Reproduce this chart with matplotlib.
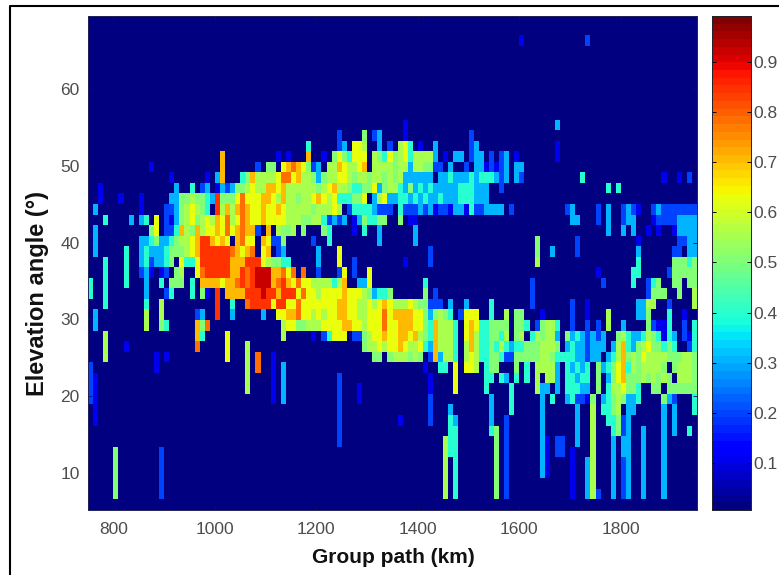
import numpy as np
import matplotlib
matplotlib.use("Agg")
import matplotlib.pyplot as plt
from matplotlib.lines import Line2D

plt.rcParams['font.family'] = ['Liberation Sans', 'DejaVu Sans']

# Cell levels (level code -> intensity)
level_values = {'.': 0.006, '1': 0.10, '2': 0.20, '3': 0.30, '4': 0.40, '5': 0.50,
                '6': 0.56, '7': 0.63, '8': 0.70, '9': 0.78, 'a': 0.85, 'b': 0.93}

x_labels = [800, 1000, 1200, 1400, 1600, 1800]
y_labels = [10, 20, 30, 40, 50, 60]
cbar_labels = [0.1, 0.2, 0.3, 0.4, 0.5, 0.6, 0.7, 0.8, 0.9]

# row index (bottom = 0) -> "startcolumn:levels" runs
row_cells = {
    44: "85:1 98:2",
    36: "62:1 92:3",
    35: "49:2 54:5 56:23 62:1 75:2",
    34: "43:4 49:23 52:776 57:3 59:2 61:674 65:1 68:3 75:23 92:1",
    33: "26:8 37:1 39:1 43:8 46:1 48:5754777.6547567466663 70:1 72:33 75:233 79:2 81:23 84:1 92:1",
    32: "12:1 26:8 33:2 35:55 38:789875" "23.66876678.66665663665522.3..2.331212 3.33",
    31: "16:1 23:1 25:38 30:45866667997866535667765665665656333333.33433343444323.32 97:4 113:1 116:1 118:2",
    30: "2:1 17:3 20:4 22:23 25:132355676688786666665678665445573566435343433333444333..2 102:4.4",
    29: "2:1 6:1 10:1 16:335565543a55579777887686656678767444557.3673344343433433344433 3",
    28: "1:3 10:1 15:223567654 25:a686898778778766666566676 51:244443222.42223231221331422 3333.2 94:23 100:2 102:3 105:2321 111:232222222",
    27: "3:4 8:3 10:34 13:7 15:21 17:3567567687967987787777666556642323.1354455 61:5 63:11 95:33 100:2 102:3 105:233 111:122223333",
    26: "1:3 12:57 15:22 17:48658677879789882.8.6556.5...54 52:1 54:4 57:3 64:3 102:3 105:3 107:3 110:1 112:1 115:1333 3",
    25: "1:3 10:33453345667 21:8aa8787.8977.872 37:25 44:2 47:4 57:3 64:3 88:5 96:2 108:1 116:2233",
    24: "1:3 7:4 10:343334555678aaaaaa98789.78.23 45:3 49:7 67:2 88:5 91:3 96:2 108:3 115:22.33",
    23: "3:4 7:4 10:3423345.744 21:7aaaaaa888aaa765544 45:3 49:7 52:2 62:1 67:2 88:6 108:4 115:55545",
    22: "3:4 7:4 10:231.12.56..79aaaaa88a9abbb88979.9..2...27 52:2 55:7 100:1 107:44 114:255555",
    21: "0:4 3:4 7:4 11:3 14:4 16:555 20:4 22:88887889a9abbb89a8797766664 49:68 53:33 55:7 66:4 87:2 101:2 107:4 110:245 115:55.55",
    20: "0:4 3:4 11:3 15:24 20:4 22:51 25:a 27:8888aaabaa8aaa7977677778 8 51:7776 55:5344 5 66:5 68:2 87:2 110:2555 116:5 119:6",
    19: "3:4 11:4 14:6 25:a 28:4 31:9aaaa7aa77977777778877 53:667678766676 5 66:5222 71:3 74:3 79:4 87:2 95:2 98:1 108:3366 114:2 119:6",
    18: "1:3 11:6 14:6 21:23 25:a 28:3 34:3 37:7788977676778877667779788 8 62:8877535654.2777..4..6.55 89:1 95:2 98:1 102:6 108:335 114:4 117:1",
    17: "1:3 11:6 14:54 21:85 23:9 38:677556667777 50:887767779778887754866 64:7 66:54866 71:64 74:78744555 5 84:554.2 89:5664 95:2 98:2 100:2 102:6 105:3 110:52114 117:2 119:4",
    16: "3:6 21:84 27:7 38:6 44:1 46:24777 52:22 54:5677877 61:887865 67:486664 73:.78644 79:55 81:46.56.465 90:663 94:5343232 3 104:56433 109:46541 114:43 117:214",
    15: "3:6 7:1 21:9 27:7 31:6 54:56676778766 65:743866 6 71:64.68644 5 79:5464 83:344555 89:6665 94:34332333 103:3684 107:3 108:567554 114:54 118:24",
    14: "3:6 13:1 15:1 27:7 31:6 33:9 36:1 56:55.566656 5 66:.28366 4 73:.676445 5 81:422555 5 88:5665444 4 96:33233 102:346856 108:5 109:76666 5 115:55 6 6 5",
    13: "0:2 13:1 31:6 33:9 36:1 38:3 66:1 69:44 72:7 74:776 78:455 84:5 86:4 88:6666 92:3 94:43434 100:534578 4 107:656666 5 115:56665",
    12: "0:21 31:6 36:1 38:3 49:2 67:1 72:7 78:44 81:43 84:4 86:4 88:6.663 94:44344 100:5.357855565656 5 116:6665",
    11: "0:21 31:6 36:1 38:3 49:2 53:1 67:1 72:7 78:4 83:4 88:633.3.44433.5.4667554 110:.55.555555",
    10: "0:21 36:1 38:3 49:2 53:1 67:2 79:3 83:4 89:3 91:4 94:34221 5 99:5 101:3456533 4 113:532 119:4",
    9: "1:1 49:2 67:2 71:3 79:3 83:4 89:3 96:3 99:6 101:4456 106:33 113:3 115:3 119:4",
    8: "1:1 49:2 61:1 67:2 71:43 79:3 82:2 89:3 96:3 99:6 102:44523 113:3 115:3",
    7: "49:2 71:44 79:45 82:2 89:3 96:3 99:6 103:4523 109:3 113:3 115:3 118:4",
    6: "49:2 70:644 80:5 82:2 89:31 92:22 96:3 99:6 103:3 105:33 109:3 113:3",
    5: "5:5 14:2 70:644 80:5 82:2 89:31 92:22 95:1 99:6 103:3 105:33 109:3 113:3",
    4: "5:5 14:2 70:6 72:4 80:5 82:2 89:31 95:1 98:36 103:3 105:23 109:3 113:3",
    3: "5:5 14:2 70:6 72:4 80:5 82:2 89:31 95:1 98:36 103:3 105:23 109:3 113:3",
    2: "5:5 14:2 70:6 72:4 80:5 82:2 95:1 98:36 103:3 105:23 109:3 113:3",
    1: "5:5 14:2 70:6 72:4 80:5 82:2 95:1 98:362 103:3 105:23 109:3 113:3",
}

n_cols, n_rows = 120, 47
grid = np.full((n_rows, n_cols), level_values['.'])
for row, spec in row_cells.items():
    for tok in spec.split():
        if ':' in tok:
            start, codes = tok.split(':')
            col = int(start)
        else:
            codes = tok
        for ch in codes:
            if col < n_cols:
                grid[row, col] = level_values[ch]
            col += 1

W, H = 779, 575
fig = plt.figure(figsize=(W / 100, H / 100), dpi=100, facecolor='white')

def box(l, t, r, b):
    return [l / W, 1 - b / H, (r - l) / W, (b - t) / H]

TICK_COLOR = '#4d4d4d'
ax = fig.add_axes(box(88, 16, 697, 510))
x_edges = np.linspace(750, 1950, n_cols + 1)
y_edges = 5.18 + 1.374 * np.arange(n_rows + 1)
cmap = plt.get_cmap('jet', 64)
vmin, vmax = 0.006, 0.992
ax.pcolormesh(x_edges, y_edges, grid, cmap=cmap, vmin=vmin, vmax=vmax, shading='flat')
ax.set_xlim(750, 1950)
ax.set_ylim(5.18, 69.5)
ax.set_xticks(x_labels)
ax.set_yticks(y_labels)
ax.tick_params(direction='in', length=3, width=0.6, top=True, right=True, color='#10105a',
               labelsize=12.5, labelcolor=TICK_COLOR)
ax.tick_params(axis='x', pad=9)
ax.tick_params(axis='y', pad=6)
for s in ax.spines.values():
    s.set_linewidth(0.7)
    s.set_color('#22225a')

fig.text(393.5 / W, 1 - 563 / H, 'Group path (km)', fontsize=15, fontweight='bold',
         ha='center', va='baseline', color='#111111')
fig.text(38 / W, 1 - 293.5 / H, 'Elevation angle (°)', fontsize=17, fontweight='bold',
         rotation=90, ha='center', va='center', color='#111111')

cax = fig.add_axes(box(712, 16, 751, 510))
levels = np.linspace(vmin, vmax, 65)
cax.pcolormesh([0, 1], levels, ((levels[:-1] + levels[1:]) / 2)[:, None],
               cmap=cmap, vmin=vmin, vmax=vmax, shading='flat')
cax.set_xlim(0, 1)
cax.set_ylim(vmin, vmax)
cax.set_xticks([])
cax.set_yticks(cbar_labels)
cax.set_yticklabels([str(v) for v in cbar_labels])
cax.yaxis.tick_right()
cax.tick_params(axis='y', direction='in', length=3, width=0.7, left=True, right=True,
                labelsize=12.5, labelcolor=TICK_COLOR, pad=2)
for s in cax.spines.values():
    s.set_linewidth(0.7)
    s.set_color('#22222a')

# black border of the captured figure: left and top edges only
fig.add_artist(Line2D([9.5 / W, 9.5 / W, 1], [0, 1 - 5.5 / H, 1 - 5.5 / H],
                      transform=fig.transFigure, color='black', lw=1.5))

fig.savefig('out.png', dpi=100)
